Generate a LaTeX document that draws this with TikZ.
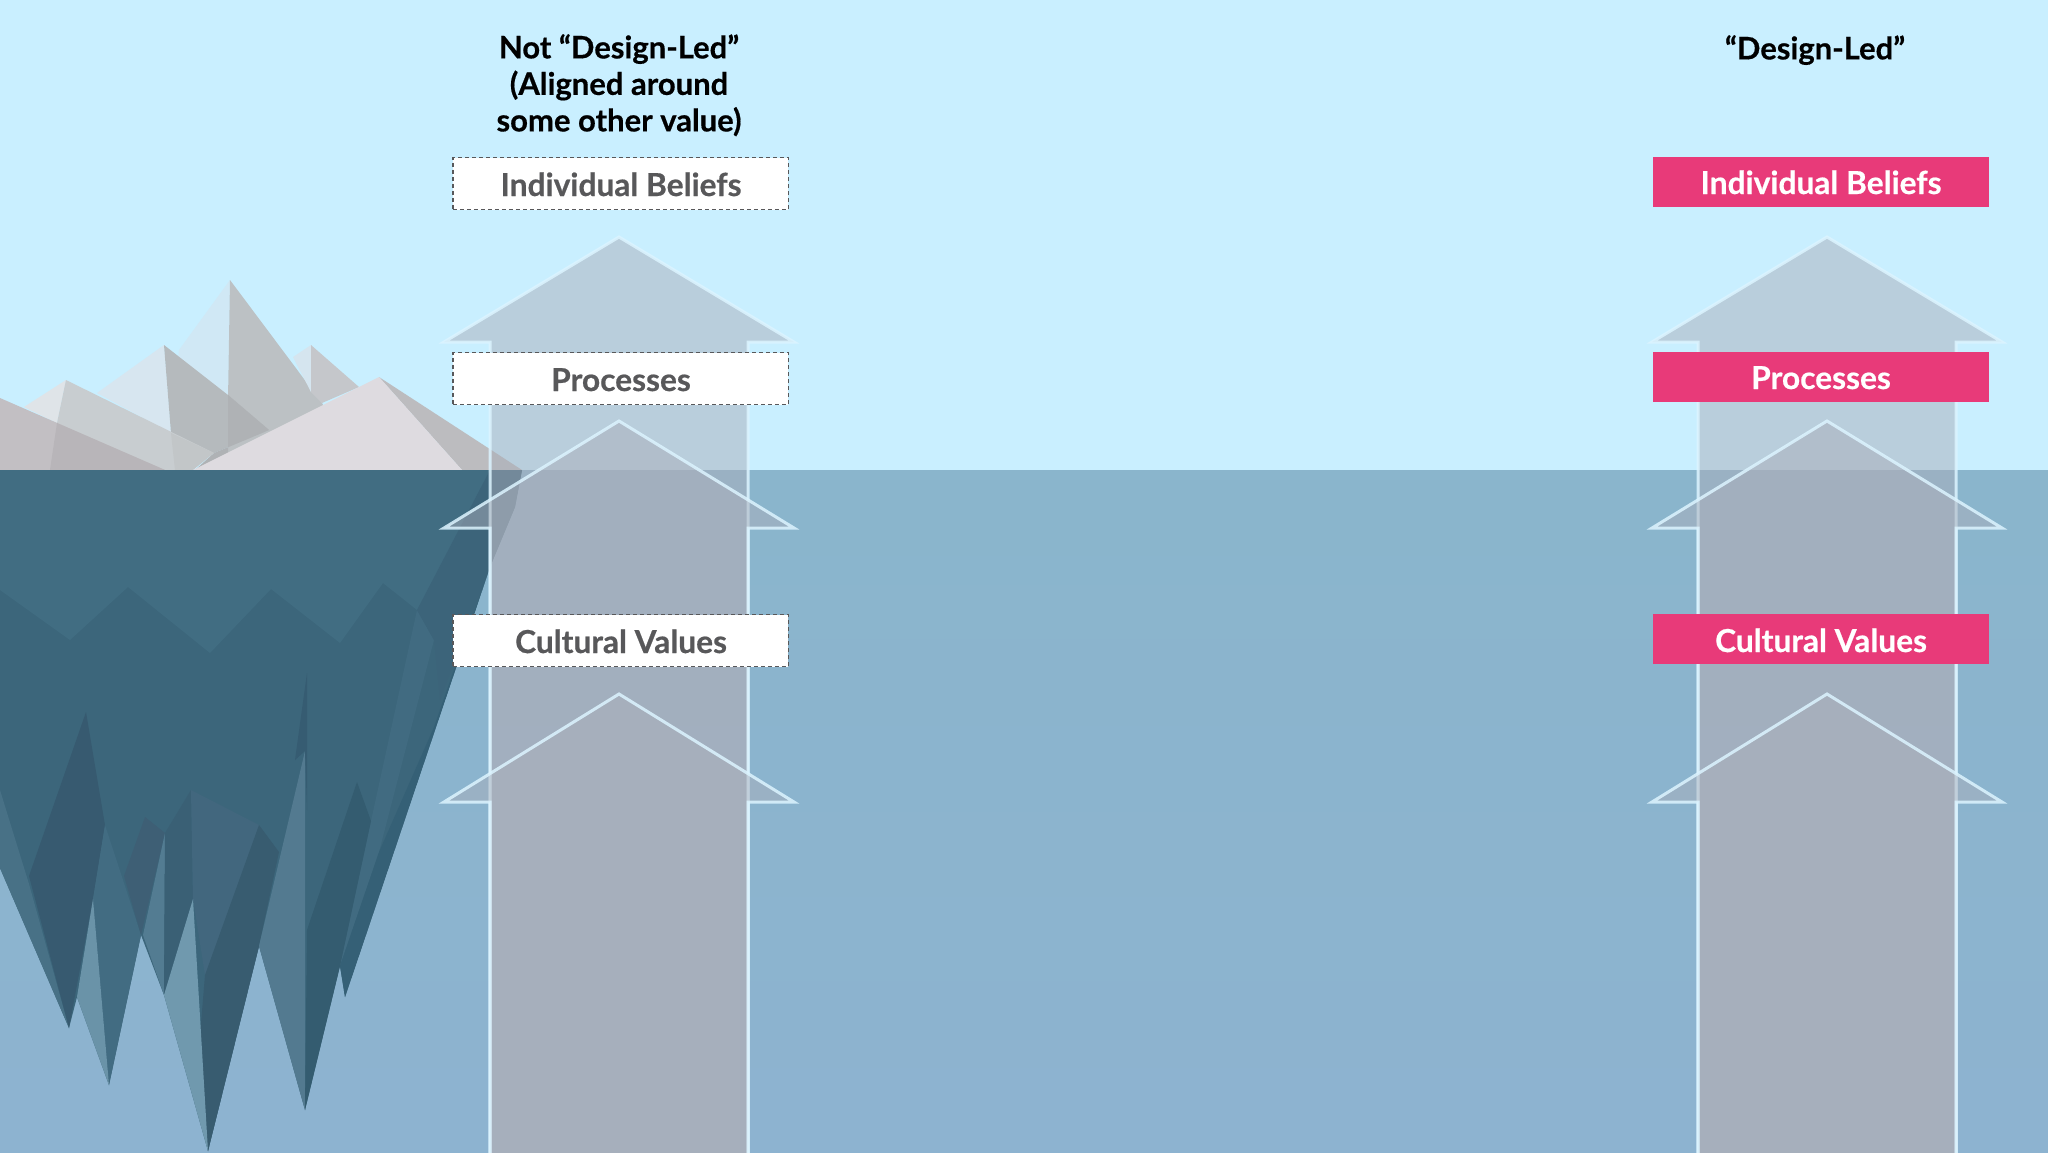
\documentclass[tikz,border=0pt]{standalone}
\usepackage{fontspec}
\setmainfont{Lato}[BoldFeatures={FakeBold=0.5}]
\definecolor{sky}{HTML}{C9EFFF}
\definecolor{waterA}{HTML}{8AB5CC}
\definecolor{waterB}{HTML}{8DB3D0}
\definecolor{arrowfill}{RGB}{170,175,187}
\definecolor{arrowline}{HTML}{DCF4FF}
\definecolor{pinkbox}{HTML}{E83A79}
\definecolor{greytext}{HTML}{58585A}
\tikzset{
  px/.style={x=1pt,y=-1pt},
  liftfill/.style={fill=arrowfill,fill opacity=.5,draw=none},
  liftline/.style={draw=arrowline,draw opacity=.85,line width=3pt,line join=miter,fill=none},
  header/.style={font=\fontsize{31}{36.5}\selectfont\bfseries,text=black,align=center,inner sep=0pt},
  dashbox/.style={fill=white,draw=greytext,line width=1.5pt,dash pattern=on 4pt off 3pt,minimum width=335.5pt,minimum height=52pt,inner sep=0pt},
  pinkrect/.style={fill=pinkbox,draw=none,minimum width=336pt,minimum height=50pt,inner sep=0pt},
  greylabel/.style={anchor=base,text=greytext,font=\fontsize{31.7}{36}\selectfont\bfseries,inner sep=0pt},
  whitelabel/.style={anchor=base,text=white,font=\fontsize{31.7}{36}\selectfont\bfseries,inner sep=0pt},
}
\newcommand{\liftarrow}[3]{%
  \fill[liftfill] (#1,#2) -- ({#1+175},#3) -- ({#1+129},#3) -- ({#1+129},1160) -- ({#1-129},1160) -- ({#1-129},#3) -- ({#1-175},#3) -- cycle;
  \draw[liftline] ({#1-129},1160) -- ({#1-129},#3) -- ({#1-175},#3) -- (#1,#2) -- ({#1+175},#3) -- ({#1+129},#3) -- ({#1+129},1160);
}
\newcommand{\facet}[2]{\definecolor{facetcol}{RGB}{#1}\fill[facetcol] #2;}
\begin{document}
\begin{tikzpicture}[px]
\useasboundingbox (0,0) rectangle (2048,1152);
\clip (0,0) rectangle (2048,1152);
% sky and water
\fill[sky] (0,0) rectangle (2048,471);
\shade[top color=waterA,bottom color=waterB] (0,470) rectangle (2048,1152);
% iceberg above the waterline
\facet{208,232,245}{(230,280) -- (179,350) -- (171,433) -- (228,400) -- cycle}
\facet{188,193,196}{(230,280) -- (322,403) -- (360,470) -- (228,470) -- (228,400) -- cycle}
\facet{213,229,239}{(311,345) -- (293,357) -- (311,392) -- cycle}
\facet{197,199,203}{(311,345) -- (359,387) -- (322,403) -- (311,392) -- cycle}
\facet{215,230,240}{(164,345) -- (97,393) -- (171,433) -- cycle}
\facet{181,186,189}{(164,345) -- (228,395) -- (269,430) -- (214,453) -- (171,470) -- (171,433) -- cycle}
\facet{175,178,181}{(228,395) -- (269,430) -- (214,453) -- (195,470) -- (228,470) -- cycle}
\facet{223,228,232}{(66,380) -- (24,407) -- (57,423) -- cycle}
\facet{200,205,208}{(66,380) -- (57,423) -- (50,470) -- (176,470) -- (214,453) -- cycle}
\facet{194,198,200}{(171,433) -- (214,453) -- (193,470) -- (175,470) -- cycle}
\facet{194,191,195}{(0,398) -- (165,470) -- (0,470) -- cycle}
\facet{184,181,185}{(57,423) -- (165,470) -- (50,470) -- cycle}
\facet{188,188,191}{(379,377) -- (522,470) -- (462,470) -- cycle}
\facet{222,219,224}{(379,377) -- (193,470) -- (462,470) -- cycle}
% iceberg under water
\facet{60,102,123}{(0,470) -- (522,470) -- (515,507) -- (490,567) -- (345,997) -- (340,966) -- (305,1110) -- (259,946) -- (208,1151) -- (164,995) -- (141,935) -- (109,1085) -- (77,997) -- (69,1028) -- (0,868) -- cycle}
\facet{65,109,130}{(0,470) -- (490,470) -- (490,540) -- (417,610) -- (383,583) -- (340,643) -- (271,589) -- (210,653) -- (128,587) -- (70,640) -- (0,590) -- cycle}
\facet{65,107,129}{(417,610) -- (434,640) -- (379,852) -- (340,966) -- (371,821) -- cycle}
\facet{60,100,122}{(490,470) -- (522,470) -- (515,507) -- (490,567) -- (440,700) -- (434,640) -- (417,610) -- cycle}
\facet{53,96,118}{(434,727) -- (490,567) -- (345,997) -- (340,966) -- (379,852) -- cycle}
\facet{72,113,134}{(0,790) -- (29,884) -- (69,1028) -- (0,868) -- cycle}
\facet{55,90,112}{(86,712) -- (29,876) -- (69,1028) -- (93,899) -- (105,825) -- cycle}
\facet{66,108,130}{(105,825) -- (93,899) -- (109,1085) -- (141,935) -- cycle}
\facet{106,147,168}{(93,899) -- (77,997) -- (109,1085) -- cycle}
\facet{62,95,117}{(145,817) -- (124,876) -- (141,935) -- (165,833) -- cycle}
\facet{83,124,146}{(165,833) -- (143,935) -- (164,995) -- cycle}
\facet{58,96,117}{(191,790) -- (165,833) -- (164,995) -- (193,899) -- cycle}
\facet{66,103,126}{(191,790) -- (193,899) -- (205,975) -- (208,1151) -- (259,946) -- (259,825) -- cycle}
\facet{56,92,112}{(205,975) -- (259,825) -- (279,852) -- (259,946) -- (208,1151) -- (198,1060) -- cycle}
\facet{112,153,174}{(193,899) -- (164,995) -- (208,1151) -- cycle}
\facet{83,122,144}{(259,946) -- (305,751) -- (305,1110) -- cycle}
\facet{54,92,114}{(307,673) -- (295,760) -- (305,751) -- (307,810) -- cycle}
\facet{52,92,112}{(307,930) -- (357,782) -- (371,821) -- (340,966) -- (305,1110) -- cycle}
% arrows
\liftarrow{619}{237}{342}
\liftarrow{619}{421}{528}
\liftarrow{619}{694}{802}
\liftarrow{1827}{237}{342}
\liftarrow{1827}{421}{528}
\liftarrow{1827}{694}{802}
% headers
\node[header,anchor=north] (lefthead) at (619,34) {Not “Design-Led”\\(Aligned around\\some other value)};
\node[header,anchor=north] (righthead) at (1815,35) {“Design-Led”};
% left boxes
\node[dashbox] (lb1) at (620.5,183.5) {};
\node[dashbox] (lb2) at (620.5,378.5) {};
\node[dashbox] (lb3) at (620.5,640.5) {};
\node[greylabel] (lt1) at (621,196) {Individual Beliefs};
\node[greylabel] (lt2) at (621,391) {Processes};
\node[greylabel] (lt3) at (621,653) {Cultural Values};
% right boxes
\node[pinkrect] (rb1) at (1820.5,182) {};
\node[pinkrect] (rb2) at (1820.5,377) {};
\node[pinkrect] (rb3) at (1820.5,639) {};
\node[whitelabel] (rt1) at (1821,194) {Individual Beliefs};
\node[whitelabel] (rt2) at (1821,389) {Processes};
\node[whitelabel] (rt3) at (1821,652) {Cultural Values};
\end{tikzpicture}
\end{document}
